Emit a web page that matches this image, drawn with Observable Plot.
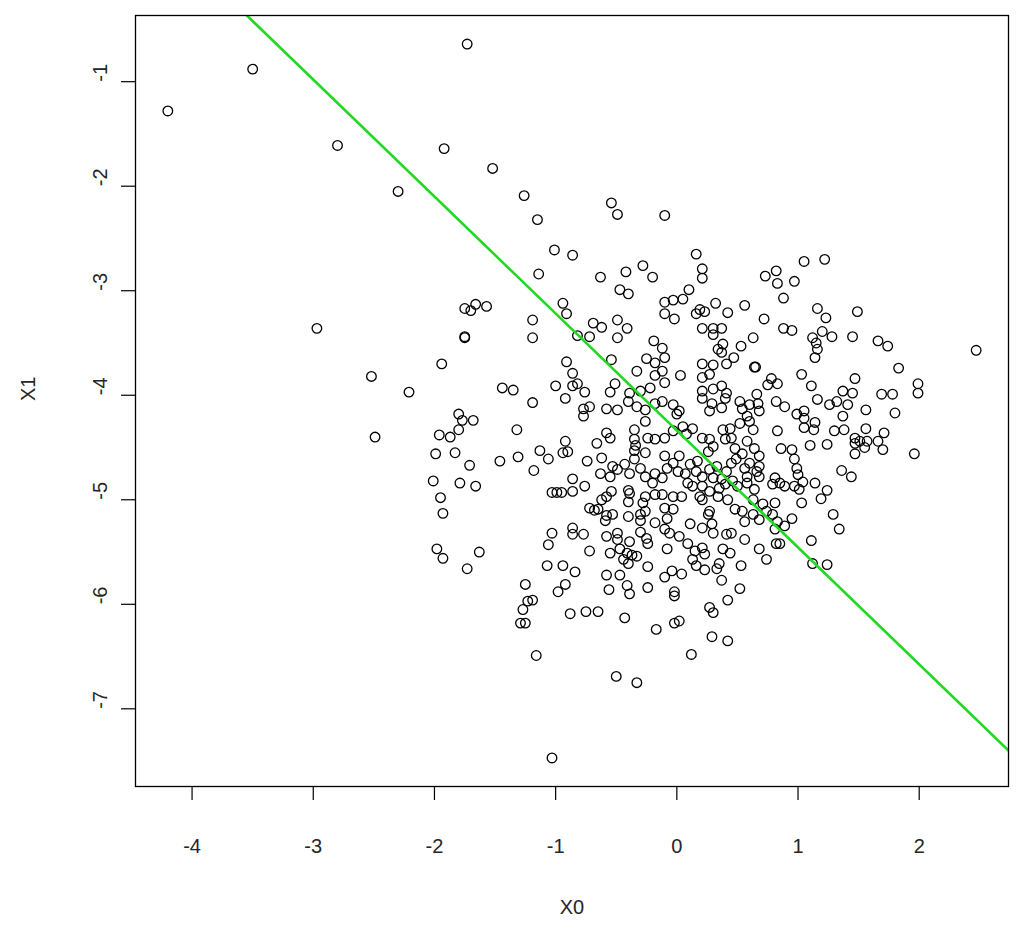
<!DOCTYPE html>
<html>
<head>
<meta charset="utf-8">
<script src="https://cdn.jsdelivr.net/npm/d3@7"></script>
<script src="https://cdn.jsdelivr.net/npm/@observablehq/plot@0.6"></script>
<style>
  html, body { margin: 0; padding: 0; background: #fff; }
  #chart { width: 1024px; height: 936px; }
</style>
</head>
<body>
<div id="chart"></div>
<script>
// Axis tick values
const xTicks = [-4, -3, -2, -1, 0, 1, 2];
const yTicks = [-7, -6, -5, -4, -3, -2, -1];
const xLabel = "X0";
const yLabel = "X1";

// Fitted line (intercept, slope)
const lineIntercept = -4.337;
const lineSlope = -1.119;

// Observations [X0, X1]
const observations = [
[-4.20,-1.28],[-3.50,-0.88],[-1.73,-0.64],[-2.80,-1.61],[-2.30,-2.05],[-1.92,-1.64],[-1.52,-1.83],[-1.26,-2.09],[-1.15,-2.32],[-0.54,-2.16],[-0.49,-2.27],[-0.10,-2.28],[-2.97,-3.36],[-2.52,-3.82],[-2.49,-4.40],[-2.21,-3.97],[-1.94,-3.70],[-1.03,-7.47],[2.47,-3.57],
[-1.75,-3.17],[-1.70,-3.19],[-1.66,-3.13],[-1.57,-3.15],[-1.75,-3.45],[-1.75,-3.44],[-1.44,-3.93],[-1.35,-3.95],
[-1.01,-2.61],[-0.86,-2.66],[-1.14,-2.84],[-0.63,-2.87],[-0.42,-2.82],[-0.28,-2.76],[-0.20,-2.87],[-0.47,-2.99],[-0.40,-3.03],[-0.94,-3.12],[-0.91,-3.22],[-1.19,-3.28],[-1.19,-3.45],[-0.69,-3.31],[-0.62,-3.35],[-0.82,-3.43],[-0.72,-3.44],[-0.49,-3.28],[-0.41,-3.36],[-0.49,-3.45],[-0.19,-3.48],[-0.54,-3.66],[-0.25,-3.65],[-0.91,-3.68],[-0.86,-3.79],[-0.33,-3.77],[-0.18,-3.69],[-0.18,-3.81],[-1.00,-3.91],[-0.86,-3.91],[-0.82,-3.89],[-0.76,-3.97],[-0.51,-3.89],[-0.55,-3.97],[-0.39,-3.98],[-0.30,-3.96],[-0.22,-3.93],
[0.16,-2.65],[0.21,-2.79],[0.21,-2.88],[0.73,-2.86],[0.82,-2.81],[0.83,-2.93],[0.88,-3.07],[0.10,-2.99],[0.05,-3.08],[-0.03,-3.09],[-0.10,-3.11],[-0.10,-3.22],[-0.02,-3.27],[0.16,-3.22],[0.19,-3.18],[0.23,-3.20],[0.32,-3.12],[0.42,-3.21],[0.56,-3.14],[0.72,-3.27],[0.88,-3.36],[0.21,-3.36],[0.30,-3.36],[0.37,-3.36],[0.30,-3.42],[0.63,-3.45],[0.53,-3.53],[0.38,-3.51],[0.34,-3.56],[0.37,-3.59],[0.47,-3.64],[0.41,-3.70],[-0.12,-3.55],[-0.10,-3.64],[0.21,-3.70],[0.30,-3.71],[0.03,-3.81],[-0.12,-3.77],[-0.10,-3.88],[0.21,-3.83],[0.27,-3.80],[0.64,-3.73],[0.65,-3.73],[0.78,-3.84],[0.83,-3.89],[0.75,-3.90],[0.21,-3.96],[0.30,-3.94],[0.37,-3.91],[0.41,-3.98],[0.66,-3.99],
[1.05,-2.72],[1.22,-2.70],[0.97,-2.91],[1.16,-3.17],[1.23,-3.26],[1.49,-3.20],[0.95,-3.38],[1.20,-3.39],[1.28,-3.44],[1.12,-3.45],[1.15,-3.50],[1.16,-3.56],[1.14,-3.64],[1.45,-3.44],[1.66,-3.48],[1.74,-3.53],[1.83,-3.74],[1.03,-3.80],[1.47,-3.84],[1.11,-3.91],[1.37,-3.96],[1.45,-3.98],[1.99,-3.89],[1.99,-3.98],[1.69,-3.99],[1.78,-3.99],
[-1.80,-4.18],[-1.77,-4.24],[-1.68,-4.24],[-1.80,-4.33],[-1.87,-4.40],[-1.96,-4.38],[-1.32,-4.33],[-1.99,-4.56],[-1.83,-4.55],[-1.71,-4.67],[-1.46,-4.63],[-1.31,-4.59],[-2.01,-4.82],[-1.79,-4.84],[-1.66,-4.87],[-1.95,-4.98],[-1.93,-5.13],[-1.98,-5.47],[-1.93,-5.56],[-1.63,-5.50],
[-1.73,-5.66],[-1.25,-5.81],[-1.27,-6.05],[-1.23,-5.97],[-1.29,-6.18],[-1.25,-6.18],
[-1.19,-4.07],[-0.92,-4.03],[-0.77,-4.13],[-0.72,-4.11],[-0.77,-4.20],[-0.58,-4.13],[-0.49,-4.14],[-0.40,-4.06],[-0.33,-4.11],[-0.26,-4.14],[-0.18,-4.08],[-0.26,-4.25],[-0.35,-4.33],[-0.35,-4.42],[-0.34,-4.48],[-0.24,-4.41],[-0.18,-4.42],[-0.58,-4.36],[-0.55,-4.41],[-0.66,-4.46],[-0.92,-4.44],[-0.90,-4.54],[-0.94,-4.55],[-1.13,-4.53],[-1.06,-4.61],[-1.18,-4.72],[-0.74,-4.63],[-0.62,-4.60],[-0.35,-4.53],[-0.26,-4.55],[-0.35,-4.61],[-0.30,-4.70],[-0.53,-4.68],[-0.49,-4.71],[-0.55,-4.78],[-0.63,-4.75],[-0.43,-4.66],[-0.39,-4.75],[-0.26,-4.78],[-0.18,-4.75],[-0.20,-4.84],[-0.86,-4.80],[-0.86,-4.92],[-0.76,-4.87],[-1.03,-4.93],[-0.99,-4.93],[-0.95,-4.93],[-0.54,-4.92],[-0.58,-4.97],[-0.62,-5.00],[-0.40,-4.91],[-0.39,-4.94],[-0.40,-5.02],[-0.26,-4.97],[-0.18,-4.95],[-0.28,-5.03],[-0.26,-5.11],[-0.72,-5.08],[-0.68,-5.10],[-0.65,-5.09],[-0.58,-5.15],[-0.53,-5.14],[-0.59,-5.20],[-0.40,-5.16],[-0.30,-5.14],[-0.30,-5.20],[-0.18,-5.22],[-1.03,-5.32],[-1.06,-5.43],[-0.86,-5.27],[-0.86,-5.33],[-0.77,-5.33],[-0.58,-5.35],[-0.49,-5.32],[-0.49,-5.38],[-0.39,-5.40],[-0.30,-5.31],[-0.25,-5.37],[-0.24,-5.42],[-0.72,-5.49],[-0.55,-5.51],[-0.47,-5.47],[-0.41,-5.51],[-0.37,-5.53],[-0.44,-5.57],[-0.33,-5.54],
[-1.07,-5.63],[-0.94,-5.63],[-0.84,-5.69],[-0.92,-5.81],[-0.98,-5.88],[-0.58,-5.72],[-0.47,-5.72],[-0.41,-5.82],[-0.39,-5.90],[-0.56,-5.86],[-0.40,-5.61],[-0.24,-5.64],[-0.24,-5.84],[-1.19,-5.96],[-0.88,-6.09],[-0.75,-6.07],[-0.65,-6.07],[-0.43,-6.13],[-0.17,-6.24],[-1.16,-6.49],[-0.50,-6.69],[-0.33,-6.75],
[-0.04,-5.68],[-0.10,-5.74],[0.04,-5.71],[-0.02,-5.88],[-0.02,-5.92],[0.23,-5.67],[0.33,-5.66],[0.37,-5.77],[0.35,-5.61],[0.53,-5.63],[0.52,-5.85],[0.42,-5.96],[0.27,-6.03],[0.30,-6.08],[-0.02,-6.18],[0.02,-6.16],[0.29,-6.31],[0.42,-6.35],[0.12,-6.48],[0.16,-5.63],
[1.12,-5.61],[1.24,-5.62],
[1.16,-4.04],[1.26,-4.09],[1.32,-4.06],[1.41,-4.09],[0.99,-4.18],[1.05,-4.15],[1.05,-4.22],[1.05,-4.31],[1.14,-4.26],[1.13,-4.33],[1.37,-4.20],[1.56,-4.14],[1.80,-4.17],[1.30,-4.34],[1.38,-4.33],[1.56,-4.32],[1.10,-4.48],[1.24,-4.47],[1.47,-4.41],[1.47,-4.46],[1.51,-4.44],[1.57,-4.44],[1.55,-4.50],[1.47,-4.56],[1.66,-4.44],[1.71,-4.36],[1.70,-4.52],[1.96,-4.56],[0.95,-4.52],[0.97,-4.61],[0.99,-4.70],[1.00,-4.76],[1.04,-4.83],[0.97,-4.87],[1.01,-4.90],[1.03,-5.03],[1.14,-4.84],[1.24,-4.91],[1.19,-4.99],[1.36,-4.72],[1.44,-4.78],[0.95,-5.18],[1.29,-5.14],[1.34,-5.28],[1.11,-5.39],
[-0.12,-4.06],[-0.03,-4.09],[0.02,-4.15],[0.00,-4.18],[0.21,-4.03],[0.29,-4.08],[0.40,-4.03],[0.37,-4.12],[0.27,-4.15],[0.52,-4.06],[0.60,-4.09],[0.67,-4.08],[0.68,-4.15],[0.54,-4.13],[0.82,-4.06],[0.89,-4.11],[0.58,-4.20],[0.52,-4.27],[0.60,-4.25],[0.83,-4.34],[0.86,-4.51],[-0.10,-4.41],[-0.03,-4.34],[0.05,-4.30],[0.08,-4.37],[0.13,-4.32],
[0.21,-4.41],[0.27,-4.42],[0.30,-4.49],[0.26,-4.54],[0.38,-4.33],[0.44,-4.32],[0.40,-4.42],[0.45,-4.41],[0.48,-4.51],[0.58,-4.44],[0.63,-4.33],[0.54,-4.56],[0.64,-4.51],[0.68,-4.58],[0.68,-4.68],[0.66,-4.73],[0.60,-4.65],[0.56,-4.70],[0.68,-4.78],[0.58,-4.78],
[-0.10,-4.58],[-0.08,-4.70],[-0.03,-4.65],[0.02,-4.58],[0.01,-4.73],[0.07,-4.75],[0.11,-4.66],[0.17,-4.63],[0.16,-4.73],[0.21,-4.78],[0.27,-4.71],[0.33,-4.68],[0.30,-4.79],[0.37,-4.80],[0.41,-4.73],[0.45,-4.65],[0.49,-4.61],[-0.12,-4.79],
[0.09,-4.84],[0.13,-4.87],[0.21,-4.87],[0.27,-4.92],[0.35,-4.89],[0.40,-4.85],[0.46,-4.82],[0.50,-4.87],[0.58,-4.84],[0.64,-4.90],[0.79,-4.85],[0.81,-4.79],[0.85,-4.84],[0.89,-4.87],
[-0.12,-4.95],[-0.03,-4.97],[0.04,-4.97],[0.19,-4.97],[0.21,-5.00],[0.34,-4.97],[0.42,-5.00],[0.63,-5.00],[0.71,-5.04],[0.81,-5.03],[0.74,-5.11],
[-0.10,-5.08],[-0.08,-5.18],[-0.03,-5.09],[0.27,-5.11],[0.26,-5.14],[0.48,-5.09],[0.54,-5.11],[0.56,-5.21],[0.63,-5.14],[0.68,-5.19],[0.79,-5.14],[0.83,-5.21],[0.89,-5.25],[0.81,-5.28],
[0.11,-5.23],[0.21,-5.27],[0.29,-5.23],[0.30,-5.32],[-0.10,-5.28],[-0.06,-5.32],[0.02,-5.35],[0.41,-5.33],[0.45,-5.32],[0.56,-5.38],[0.82,-5.42],[0.85,-5.42],
[-0.08,-5.47],[0.09,-5.42],[0.15,-5.49],[0.21,-5.46],[0.23,-5.52],[0.13,-5.57],[0.38,-5.47],[0.44,-5.51],[0.68,-5.47],[0.74,-5.57]
];

// R-style axis range: data range extended by 4% on each side
const xs = observations.map(d => d[0]);
const ys = observations.map(d => d[1]);
function pad(ext) { const r = ext[1] - ext[0]; return [ext[0] - 0.04 * r, ext[1] + 0.04 * r]; }
const xDomain = pad(d3.extent(xs));
const yDomain = pad(d3.extent(ys));

const lineData = xDomain.map(x => ({x, y: lineIntercept + lineSlope * x}));

const font = "'Liberation Sans', Arial, Helvetica, sans-serif";
const textColor = "#262626";

const chart = Plot.plot({
  width: 1024,
  height: 936,
  marginLeft: 135,
  marginRight: 16,
  marginTop: 15,
  marginBottom: 150,
  x: {domain: xDomain},
  y: {domain: yDomain},
  style: {fontFamily: font, background: "#fff", color: textColor},
  marks: [
    Plot.axisX({ticks: xTicks, tickSize: 14, tickPadding: 38, tickFormat: d => String(d), fontSize: 20, label: null, stroke: "#000", strokeWidth: 1.2}),
    Plot.axisY({ticks: yTicks, tickSize: 14, tickFormat: () => "", label: null, stroke: "#000", strokeWidth: 1.2}),
    Plot.text(yTicks, {y: d => d, text: d => String(d), frameAnchor: "left", dx: -35, rotate: -90, fontSize: 20, fill: textColor}),
    Plot.text([xLabel], {text: d => d, frameAnchor: "bottom", dy: 127, fontSize: 20, fill: textColor}),
    Plot.text([yLabel], {text: d => d, frameAnchor: "left", dx: -107, rotate: -90, fontSize: 20, fill: textColor}),
    Plot.dot(observations, {x: d => d[0], y: d => d[1], r: 4.8, stroke: "#000", strokeWidth: 1.3, fill: "none"}),
    Plot.line(lineData, {x: "x", y: "y", stroke: "#22d822", strokeWidth: 2.6, clip: true}),
    Plot.frame({stroke: "#000", strokeWidth: 1.3})
  ]
});
document.getElementById("chart").appendChild(chart);
</script>
</body>
</html>
